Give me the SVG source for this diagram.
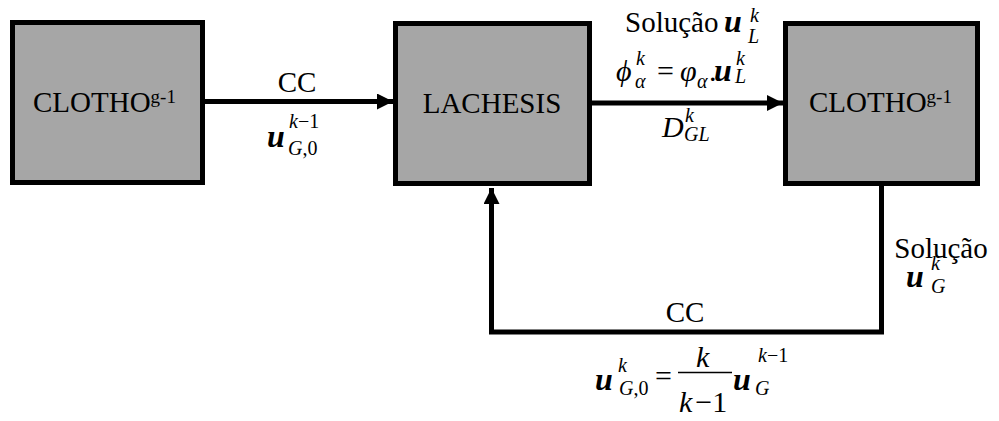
<svg xmlns="http://www.w3.org/2000/svg" width="999" height="421" viewBox="0 0 999 421">
<defs>
<style>
.box{fill:#a6a6a6;stroke:#000;stroke-width:5}
.t{font-family:"Liberation Serif","Times New Roman",serif;fill:#000}
.lbl{font-size:29px}
.m{font-family:"Liberation Serif","Times New Roman",serif;font-style:italic;font-size:30px}
.s{font-family:"Liberation Serif","Times New Roman",serif;font-style:italic;font-size:20px}
.u{font-family:"Liberation Serif","Times New Roman",serif;font-style:italic;font-weight:bold;font-size:32px}
.n{font-style:normal}
.line{fill:none;stroke:#000;stroke-width:5}
</style>
<marker id="ah" markerUnits="userSpaceOnUse" markerWidth="18" markerHeight="16" refX="16" refY="8" orient="auto">
<path d="M0,0 L16,8 L0,16 Z" fill="#000"/>
</marker>
</defs>
<rect width="999" height="421" fill="#fff"/>

<g id="clotho1">
<rect class="box" x="12.5" y="22.5" width="190" height="160"/>
<text class="t lbl" x="33" y="112">CLOTHO<tspan font-size="19" dy="-9">g-1</tspan></text>
</g>

<g id="lachesis">
<rect class="box" x="395.5" y="23.5" width="194" height="160"/>
<text class="t lbl" x="492" y="113" text-anchor="middle">LACHESIS</text>
</g>

<g id="clotho2">
<rect class="box" x="785.5" y="23.5" width="192" height="160"/>
<text class="t lbl" x="809" y="112">CLOTHO<tspan font-size="19" dy="-9">g-1</tspan></text>
</g>

<g id="connectors">
<line class="line" x1="205" y1="101.5" x2="393" y2="101.5" marker-end="url(#ah)"/>
<line class="line" x1="592" y1="103" x2="783" y2="103" marker-end="url(#ah)"/>
<polyline class="line" points="881.5,186 881.5,332 491.5,332 491.5,188" marker-end="url(#ah)"/>
</g>

<g id="labels">
<text class="t lbl" x="297" y="92" text-anchor="middle">CC</text>
<text class="u" x="267" y="147">u</text>
<text class="s" x="289" y="128">k<tspan class="n">−1</tspan></text>
<text class="s" x="288" y="155">G<tspan class="n">,0</tspan></text>

<text class="t lbl" x="625" y="32">Solução</text>
<text class="u" x="724" y="32">u</text>
<text class="s" x="750" y="22">k</text>
<text class="s" x="748" y="43">L</text>

<text class="m" x="616" y="81">ϕ</text>
<text class="s" x="636" y="65">k</text>
<text class="s" x="635" y="88">α</text>
<text class="m n" x="657" y="81">=</text>
<text class="m" x="680" y="81">φ</text>
<text class="s" x="697" y="88">α</text>
<text class="m n" x="709" y="81">.</text>
<text class="u" x="714" y="81">u</text>
<text class="s" x="736" y="65">k</text>
<text class="s" x="735" y="83">L</text>

<text class="m" x="662" y="137">D</text>
<text class="s" x="685" y="122">k</text>
<text class="s" x="684" y="141">GL</text>

<text class="t lbl" x="941" y="258" text-anchor="middle">Solução</text>
<text class="u" x="906" y="287">u</text>
<text class="s" x="931" y="270">k</text>
<text class="s" x="931" y="293">G</text>

<text class="t lbl" x="685" y="322" text-anchor="middle">CC</text>
<text class="u" x="595" y="390">u</text>
<text class="s" x="618" y="372">k</text>
<text class="s" x="619" y="395">G<tspan class="n">,0</tspan></text>
<text class="m n" x="655" y="386">=</text>
<line x1="678" y1="372.5" x2="732" y2="372.5" stroke="#000" stroke-width="1.5"/>
<text class="m" x="696" y="367">k</text>
<text class="m" x="679" y="412">k<tspan class="n" dx="3">−1</tspan></text>
<text class="u" x="733" y="390">u</text>
<text class="s" x="758" y="362">k<tspan class="n">−1</tspan></text>
<text class="s" x="755" y="395">G</text>
</g>
</svg>
